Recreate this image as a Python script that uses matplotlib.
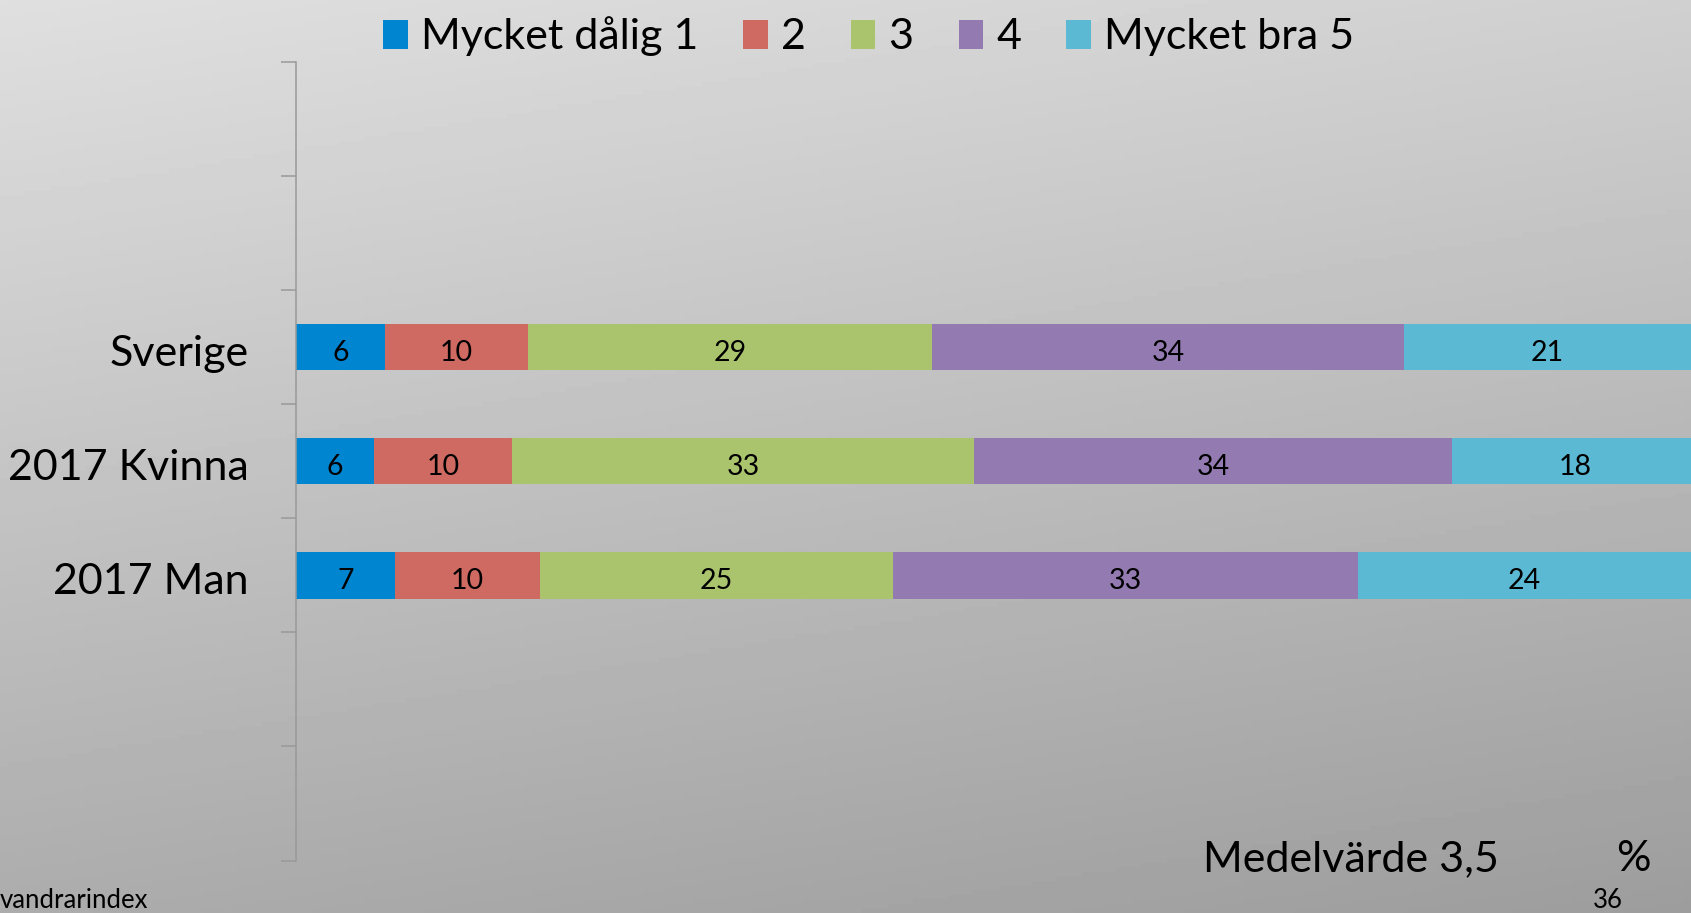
import numpy as np
import matplotlib
matplotlib.use("Agg")
import matplotlib.pyplot as plt
from matplotlib.transforms import ScaledTranslation

plt.rcParams['font.family'] = ['Lato', 'DejaVu Sans']

# categories top to bottom (empty slots are blank rows in the original chart)
categories = ['', '', 'Sverige', '2017 Kvinna', '2017 Man', '', '']
series_names = ['Mycket dålig 1', '2', '3', '4', 'Mycket bra 5']
colors = ['#0086d1', '#ce6a61', '#aac46d', '#937ab1', '#5bb9d3']

# percent per answer, rows: Sverige, 2017 Kvinna, 2017 Man
sverige = [6.4, 10.2, 29.0, 33.8, 20.6]
kvinna = [5.6, 9.9, 33.1, 34.3, 17.6]
man = [7.1, 10.4, 25.3, 33.3, 23.9]
rows = {'Sverige': sverige, '2017 Kvinna': kvinna, '2017 Man': man}


def main():
    fig = plt.figure(figsize=(16.91, 9.13), dpi=100)

    # gray gradient background
    bg = fig.add_axes([0, 0, 1, 1], zorder=-10)
    yy, xx = np.mgrid[0:1:200j, 0:1:200j]
    grad = 0.875 - 0.2 * yy - 0.06 * xx
    bg.imshow(grad, cmap='gray', vmin=0, vmax=1, extent=[0, 1, 0, 1],
              aspect='auto', origin='upper')
    bg.axis('off')

    ax = fig.add_axes([0.175, 0.0574, 0.825, 0.8752])
    ax.set_facecolor('none')

    # shift labels a few pixels down, like the original
    down = ScaledTranslation(0, -0.035, fig.dpi_scale_trans)

    ypos = np.arange(len(categories))
    for i, name in enumerate(series_names):
        for cat, vals in rows.items():
            y = categories.index(cat)
            left = sum(vals[:i])
            ax.barh(y, vals[i], left=left, height=0.41, color=colors[i],
                    label=name if cat == 'Sverige' else None)
            ax.text(left + vals[i] / 2, y, f"{vals[i]:.0f}", ha='center',
                    va='center_baseline', fontsize=20.5, color='black',
                    transform=ax.transData + down)

    ax.set_xlim(0, 100)
    ax.set_ylim(len(categories) - 0.5, -0.5)

    ax.set_yticks(np.arange(-0.5, len(categories), 1.0))
    ax.set_yticklabels([])
    ax.tick_params(axis='y', which='major', length=11, width=1.1,
                   color='#999999')
    ax.set_yticks(ypos, minor=True)
    ax.set_yticklabels(categories, minor=True, fontsize=31)
    ax.tick_params(axis='y', which='minor', length=0, pad=34)
    for lab in ax.get_yticklabels(minor=True):
        lab.set_transform(lab.get_transform() + down)

    ax.xaxis.set_visible(False)
    for s in ['top', 'right', 'bottom']:
        ax.spines[s].set_visible(False)
    ax.spines['left'].set_color('#999999')
    ax.spines['left'].set_linewidth(1.1)

    fig.legend(loc='center', bbox_to_anchor=(0.5137, 0.96), ncol=5,
               frameon=False, fontsize=31, handlelength=0.57,
               handleheight=0.64, handletextpad=0.3, columnspacing=1.05)

    fig.text(0.8865, 0.059, 'Medelvärde 3,5', ha='right', va='center',
             fontsize=31)
    fig.text(0.966, 0.059, '%', ha='center', va='center', fontsize=31)
    fig.text(0.0, 0.014, 'vandrarindex', ha='left', va='center',
             fontsize=18.5)
    fig.text(0.951, 0.014, '36', ha='center', va='center', fontsize=18.5)

    fig.savefig('out.png', dpi=100)


if __name__ == "__main__":
    main()
